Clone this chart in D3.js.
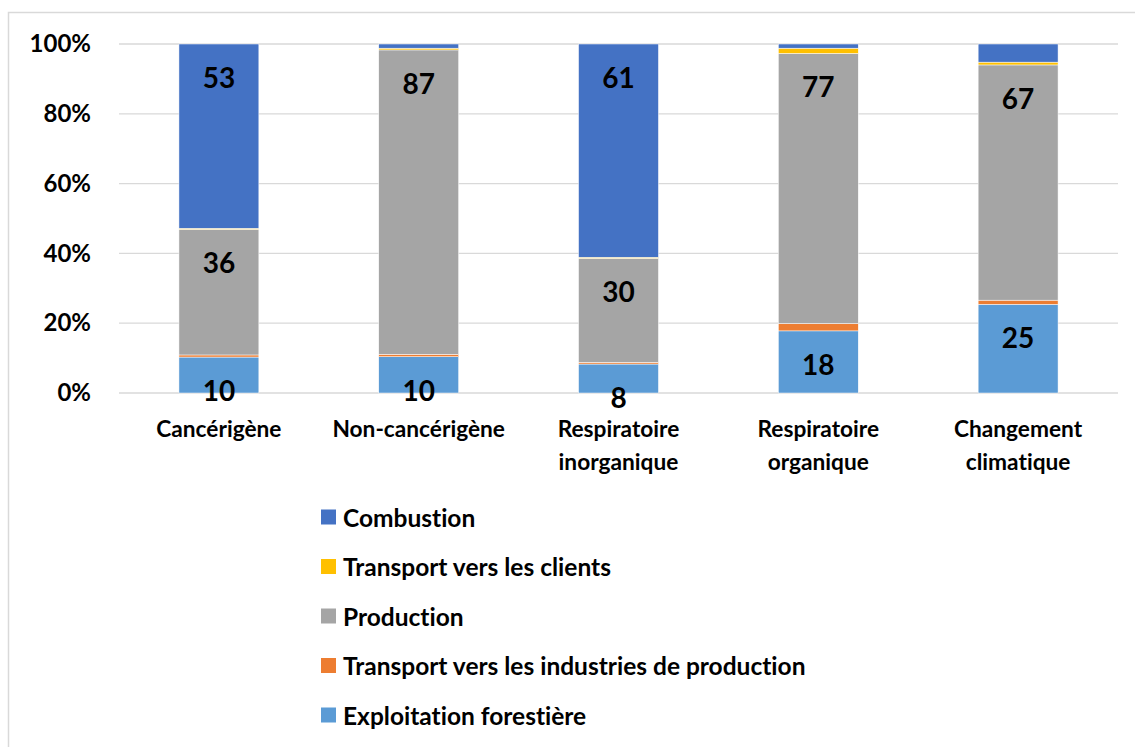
<!DOCTYPE html>
<html>
<head>
<meta charset="utf-8">
<script src="https://cdn.jsdelivr.net/npm/d3@7"></script>
<style>
  body { margin: 0; background: #fff; }
  text { font-family: Lato, "Open Sans", sans-serif; font-weight: bold; fill: #000; font-variant-ligatures: none; }
</style>
</head>
<body>
<div id="chart"></div>
<script>
// categories (x axis)
var categories = ["Cancérigène", "Non-cancérigène", "Respiratoire inorganique", "Respiratoire organique", "Changement climatique"];
var catLines = [["Cancérigène"], ["Non-cancérigène"], ["Respiratoire", "inorganique"], ["Respiratoire", "organique"], ["Changement", "climatique"]];

// series, bottom to top (percent shares)
var exploitation = [10.3, 10.4, 8.3, 17.8, 25.4];
var transportInd = [0.6, 0.7, 0.5, 2.1, 1.2];
var production = [36.0, 87.2, 29.8, 77.4, 67.4];
var transportCli = [0.3, 0.5, 0.3, 1.5, 0.8];
var combustion = [52.8, 1.2, 61.1, 1.2, 5.2];

// labels that are printed on the bars (null = no label)
var lblExploitation = ["10", "10", "8", "18", "25"];
var lblProduction = ["36", "87", "30", "77", "67"];
var lblCombustion = ["53", null, "61", null, null];

var seriesNames = ["Exploitation forestière", "Transport vers les industries de production", "Production", "Transport vers les clients", "Combustion"];
var seriesColors = ["#5B9BD5", "#ED7D31", "#A5A5A5", "#FFC000", "#4472C4"];
var yTicks = [0, 20, 40, 60, 80, 100];

var w = 1135, h = 747;
var svg = d3.select("#chart").append("svg")
    .attr("width", w)
    .attr("height", h);

// outer frame
svg.append("rect")
    .attr("x", 8.5).attr("y", 12.5)
    .attr("width", w + 10).attr("height", h + 10)
    .attr("fill", "none")
    .attr("stroke", "#D9D9D9")
    .attr("stroke-width", 1.5);

var plot = {left: 119, right: 1118, top: 44, bottom: 393};

var x = d3.scaleBand()
    .domain(categories)
    .range([plot.left, plot.right])
    .paddingInner(0.6)
    .paddingOuter(0.3);

var y = d3.scaleLinear()
    .domain([0, 100])
    .range([plot.bottom, plot.top]);

// gridlines
svg.append("g")
    .selectAll("line")
    .data(yTicks)
    .enter().append("line")
    .attr("x1", plot.left).attr("x2", plot.right)
    .attr("y1", function(d) { return y(d); })
    .attr("y2", function(d) { return y(d); })
    .attr("stroke", "#D9D9D9")
    .attr("stroke-width", 1.3);

// y axis labels
var yAxis = d3.axisLeft(y).tickValues(yTicks).tickSize(0).tickPadding(28)
    .tickFormat(function(d) { return d + "%"; });
var ya = svg.append("g").attr("transform", "translate(" + plot.left + ",0)").call(yAxis);
ya.select(".domain").remove();
ya.selectAll("text").style("font-size", "24px").style("font-family", null).attr("fill", "#000");

// stack
var table = categories.map(function(c, i) {
    return {cat: c, s0: exploitation[i], s1: transportInd[i], s2: production[i], s3: transportCli[i], s4: combustion[i]};
});
var stack = d3.stack().keys(["s0", "s1", "s2", "s3", "s4"])(table);

svg.append("g")
    .selectAll("g")
    .data(stack)
    .enter().append("g")
    .attr("fill", function(d, i) { return seriesColors[i]; })
    .selectAll("rect")
    .data(function(d) { return d; })
    .enter().append("rect")
    .attr("x", function(d) { return x(d.data.cat); })
    .attr("width", x.bandwidth())
    .attr("y", function(d) { return y(d[1]); })
    .attr("height", function(d) { return y(d[0]) - y(d[1]); })
    .attr("stroke", "#fff")
    .attr("stroke-width", 0.5);

// bar labels, near the top of each segment
function addLabels(layer, labels) {
    svg.append("g")
        .selectAll("text")
        .data(stack[layer])
        .enter().append("text")
        .filter(function(d, i) { return labels[i] != null; })
        .attr("x", function(d) { return x(d.data.cat) + x.bandwidth() / 2; })
        .attr("y", function(d) { return y(d[1]) + 33; })
        .attr("text-anchor", "middle")
        .attr("dominant-baseline", "central")
        .style("font-size", "28px")
        .text(function(d) { return labels[categories.indexOf(d.data.cat)]; });
}
addLabels(0, lblExploitation);
addLabels(2, lblProduction);
addLabels(4, lblCombustion);

// category labels
var cat = svg.append("g")
    .selectAll("text")
    .data(categories)
    .enter().append("text")
    .attr("x", function(d) { return x(d) + x.bandwidth() / 2; })
    .attr("y", 428)
    .attr("text-anchor", "middle")
    .attr("dominant-baseline", "central")
    .style("font-size", "22.7px");
cat.selectAll("tspan")
    .data(function(d, i) { return catLines[i]; })
    .enter().append("tspan")
    .attr("x", function() { var p = this.parentNode; return p.getAttribute("x"); })
    .attr("dy", function(d, i) { return i === 0 ? 0 : 33; })
    .text(function(d) { return d; });

// legend, top to bottom: combustion first
var legendOrder = [4, 3, 2, 1, 0];
var leg = svg.append("g")
    .selectAll("g")
    .data(legendOrder)
    .enter().append("g")
    .attr("transform", function(d, i) { return "translate(321," + (517 + i * 49.5) + ")"; });
leg.append("rect")
    .attr("x", 0).attr("y", -7.5)
    .attr("width", 15).attr("height", 15)
    .attr("fill", function(d) { return seriesColors[d]; });
leg.append("text")
    .attr("x", 22).attr("y", 0)
    .attr("dominant-baseline", "central")
    .style("font-size", "24.5px")
    .text(function(d) { return seriesNames[d]; });
</script>
</body>
</html>
